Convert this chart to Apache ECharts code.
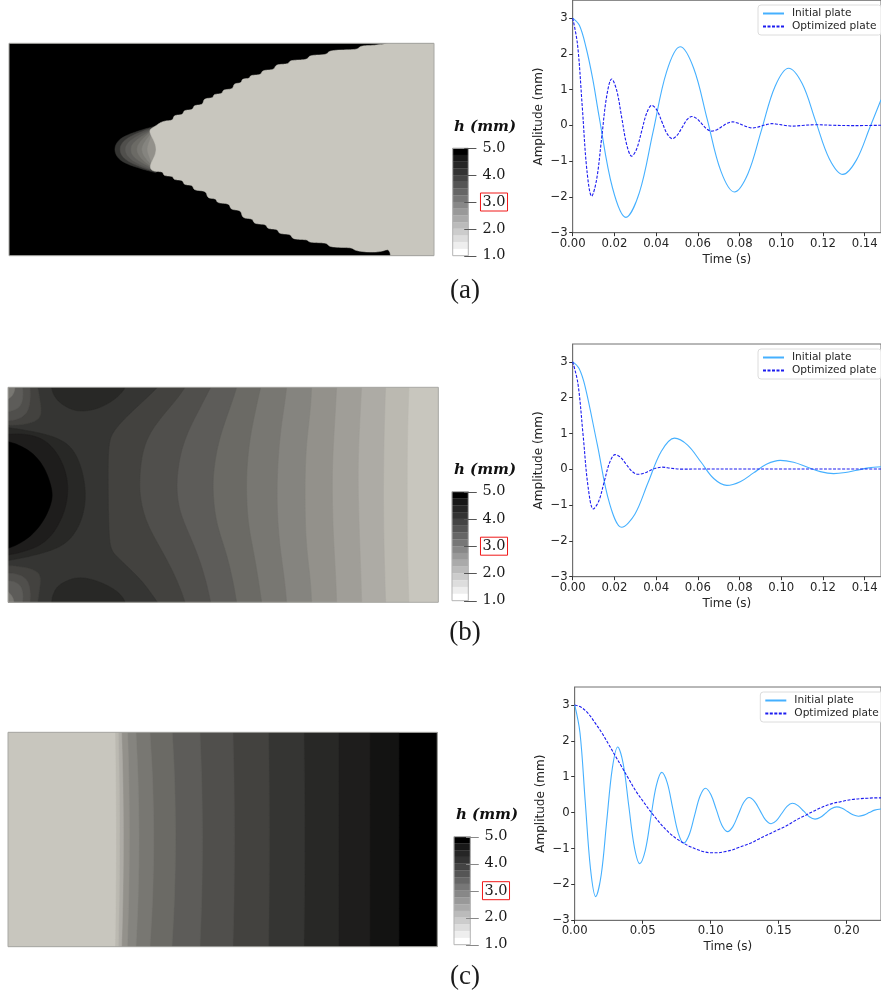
<!DOCTYPE html>
<html><head><meta charset="utf-8">
<style>html,body{margin:0;padding:0;background:#fff;overflow:hidden}#c{width:881px;height:999px;filter:blur(.55px)}</style>
<script src="https://cdn.jsdelivr.net/npm/echarts@6/dist/echarts.min.js"></script>
</head><body><div id="c"></div>
<script>
// ---------- decay curves [time s, amplitude mm] ----------
const initialA=[[0,3],[.0032,2.8],[.0064,2.18],[.0096,1.3],[.01275,.215],[.0191,-1.75],[.0255,-2.57],[.032,-1.87],[.0385,-.185],[.045,1.5],[.0515,2.2],[.058,1.6],[.0645,.17],[.071,-1.27],[.0775,-1.86],[.084,-1.35],[.0905,-.13],[.097,1.09],[.1035,1.6],[.11,1.17],[.1165,.115],[.123,-.93],[.1295,-1.37],[.136,-.97],[.1425,-.05],[.1478,.72]];
const optimizedA=[[0,3],[.0023,2.27],[.0046,.51],[.0068,-1.25],[.0091,-1.98],[.0115,-1.5],[.0139,-.34],[.0163,.82],[.0187,1.3],[.0211,.98],[.0235,.22],[.0259,-.54],[.0283,-.86],[.0307,-.65],[.0331,-.15],[.0355,.35],[.0379,.56],[.0404,.425],[.0428,.095],[.0453,-.235],[.0477,-.37],[.05,-.28],[.0524,-.06],[.0548,.16],[.0571,.25],[.0595,.19],[.0619,.045],[.0643,-.1],[.0667,-.16],[.0692,-.12],[.0716,-.03],[.0741,.06],[.0766,.1],[.079,.07],[.0814,.015],[.0838,-.04],[.0862,-.07],[.0885,-.05],[.0908,-.01],[.0932,.03],[.0955,.05],[.098,.035],[.1003,.015],[.1027,-.005],[.105,-.02],[.11,0],[.116,.02],[.125,.005],[.135,-.005],[.1478,.005]];
const initialB=[[0,3],[.003,2.82],[.0059,2.32],[.0118,.69],[.0176,-.94],[.0235,-1.62],[.0298,-1.255],[.0361,-.375],[.0425,.505],[.0488,.87],[.0551,.677],[.0614,.21],[.0676,-.257],[.0739,-.45],[.0803,-.347],[.0867,-.1],[.0931,.147],[.0995,.25],[.1059,.195],[.1123,.065],[.1187,-.065],[.1251,-.12],[.1307,-.09],[.1363,-.025],[.1419,.04],[.1478,.07]];
const optimizedB=[[0,3],[.0025,2.4],[.005,.945],[.0074,-.5],[.0099,-1.11],[.0125,-.887],[.0151,-.35],[.0177,.187],[.0203,.41],[.023,.33],[.0257,.135],[.0285,-.06],[.0312,-.14],[.0341,-.11],[.0369,-.04],[.0398,.03],[.0427,.06],[.047,.03],[.0523,.005],[.065,.01],[.08,.01],[.1,.01],[.12,.01],[.1478,.01]];
const initialC=[[0,3],[.0039,2.22],[.0077,.33],[.0116,-1.56],[.0154,-2.34],[.0195,-1.73],[.0235,-.255],[.0276,1.22],[.0316,1.83],[.0357,1.355],[.0397,.205],[.0438,-.945],[.0478,-1.42],[.0519,-1.05],[.0559,-.15],[.06,.75],[.064,1.12],[.068,.835],[.072,.135],[.0761,-.565],[.0801,-.85],[.0841,-.625],[.0881,-.085],[.0921,.455],[.0961,.68],[.1001,.505],[.1042,.075],[.1082,-.355],[.1123,-.53],[.1163,-.39],[.1203,-.055],[.1242,.28],[.1282,.42],[.1322,.313],[.1363,.055],[.1403,-.203],[.1444,-.31],[.1483,-.225],[.1522,-.025],[.1561,.175],[.16,.26],[.1642,.195],[.1684,.04],[.1725,-.115],[.1767,-.18],[.1807,-.13],[.1847,-.01],[.1886,.11],[.1926,.16],[.1966,.12],[.2006,.03],[.2046,-.06],[.2086,-.1],[.2126,-.07],[.2166,0],[.2205,.07],[.2252,.1]];
const optimizedC=[[0,3],[.005,2.93],[.01,2.76],[.015,2.5],[.02,2.22],[.025,1.9],[.03,1.57],[.035,1.25],[.04,.92],[.045,.6],[.05,.33],[.055,.07],[.06,-.17],[.065,-.39],[.07,-.58],[.075,-.73],[.08,-.85],[.085,-.95],[.09,-1.03],[.095,-1.09],[.1,-1.12],[.105,-1.12],[.11,-1.09],[.115,-1.05],[.12,-.98],[.125,-.91],[.13,-.84],[.135,-.74],[.14,-.65],[.145,-.56],[.15,-.47],[.155,-.38],[.16,-.27],[.165,-.16],[.17,-.07],[.175,.03],[.18,.12],[.185,.2],[.19,.26],[.195,.3],[.2,.34],[.205,.37],[.21,.39],[.215,.4],[.22,.41],[.2252,.41]];
const timeTicksAB=[0,.02,.04,.06,.08,.1,.12,.14];
const timeTicksC=[0,.05,.1,.15,.2];
const amplitudeTicks=[-3,-2,-1,0,1,2,3];
const thicknessTicks=[1,2,3,4,5];
// colour bar: gray per class, class 0 is 4.75-5.0 mm, class 15 is 1.0-1.25 mm
const barGrays=[0,24,38,51,68,85,102,119,136,153,170,187,204,221,238,255];
const seriesNames=['Initial plate','Optimized plate'];

// ---------- thickness fields: class + contour ----------
const tipInner=[[520,358]];
const fieldA=[
 {level:0,curve:[],close:[[27,40],[1302,40],[1302,677],[27,677]]},
 {level:4,curve:[[468,288],[385,312],[352,335],[344,358],[352,382],[385,405],[468,428]],close:tipInner},
 {level:6,curve:[[460,293],[400,314],[367,337],[360,358],[367,380],[400,403],[460,423]],close:tipInner},
 {level:7,curve:[[455,298],[410,318],[382,340],[376,358],[382,378],[410,400],[455,418]],close:tipInner},
 {level:8,curve:[[452,303],[420,322],[397,342],[393,358],[397,376],[420,395],[452,412]],close:tipInner},
 {level:9,curve:[[452,306],[430,324],[414,345],[411,358],[414,372],[430,392],[452,408]],close:tipInner},
 {level:10,curve:[[454,310],[438,330],[428,347],[426,358],[428,370],[438,386],[454,404]],close:tipInner},
 {level:11,curve:[[456,312],[448,335],[441,358],[448,380],[456,402]],close:tipInner},
 {level:15,curve:[[1172,38],[1130,46],[1075,48],[1075,60],[985,60],[985,75],[925,75],[925,90],[868,90],[868,103],[825,103],[825,120],[785,120],[785,135],[750,135],[750,146],[725,146],[725,160],[700,160],[700,178],[668,178],[668,192],[640,192],[640,205],[610,205],[610,225],[580,225],[580,240],[550,240],[550,255],[520,255],[520,272],[490,272],[465,290],[448,300],[455,320],[472,358],[455,395],[450,415],[465,425],[490,425],[490,438],[520,438],[520,450],[550,450],[550,465],[580,465],[580,482],[620,482],[620,505],[650,505],[650,520],[690,520],[690,540],[725,540],[725,565],[760,565],[760,582],[800,582],[800,597],[835,597],[835,612],[875,612],[875,628],[925,628],[925,638],[985,638],[985,652],[1060,652],[1060,662],[1140,668],[1165,655],[1172,680]],close:[[1302,680],[1302,38]]}
];
const leftEdgeB=[[24,682],[24,37]];
const fieldB=[
 {level:15,curve:[],close:[[24,37],[1315,37],[1315,682],[24,682]]},
 {level:14,curve:[[1227,37],[1222,200],[1222,358],[1222,520],[1227,682]],close:leftEdgeB},
 {level:13,curve:[[1157,37],[1153,150],[1150,358],[1153,550],[1157,682]],close:leftEdgeB},
 {level:12,curve:[[1085,37],[1079,150],[1075,250],[1075,358],[1079,500],[1083,600],[1085,682]],close:leftEdgeB},
 {level:11,curve:[[1010,37],[1005,130],[998,250],[997,358],[1000,480],[1007,600],[1010,682]],close:leftEdgeB},
 {level:10,curve:[[935,37],[930,120],[918,220],[915,358],[918,500],[930,600],[935,682]],close:leftEdgeB},
 {level:9,curve:[[860,37],[852,100],[838,200],[830,358],[838,500],[852,600],[860,682]],close:leftEdgeB},
 {level:8,curve:[[782,37],[768,100],[748,200],[740,300],[740,358],[745,450],[765,550],[785,682]],close:leftEdgeB},
 {level:7,curve:[[710,37],[690,100],[655,200],[640,300],[640,358],[650,450],[685,550],[710,682]],close:leftEdgeB},
 {level:6,curve:[[632,37],[600,100],[550,200],[532,300],[532,358],[545,430],[600,550],[632,682]],close:leftEdgeB},
 {level:5,curve:[[555,37],[525,80],[465,150],[430,220],[420,300],[420,358],[435,430],[470,500],[525,600],[555,682]],close:leftEdgeB},
 {level:4,curve:[[472,37],[450,60],[385,120],[340,170],[325,220],[325,358],[328,500],[345,540],[410,600],[450,650],[472,682]],close:leftEdgeB},
 {level:3,curve:[[155,37],[165,70],[205,100],[250,110],[310,95],[360,60],[375,37]],close:[]},
 {level:3,curve:[[155,682],[165,640],[205,615],[250,607],[310,625],[360,655],[375,682]],close:[]},
 {level:3,curve:[[24,158],[100,170],[190,195],[235,250],[257,340],[250,420],[215,490],[150,530],[24,557]],close:[]},
 {level:2,curve:[[24,178],[110,180],[170,230],[200,300],[203,360],[190,420],[150,490],[90,525],[24,540]],close:[]},
 {level:0,curve:[[24,200],[80,220],[130,270],[155,340],[155,380],[130,440],[80,495],[24,520]],close:[]},
 {level:5,curve:[[113,37],[122,90],[120,135],[60,150],[24,150]],close:[[24,37]]},
 {level:6,curve:[[90,37],[90,95],[65,130],[24,137]],close:[[24,37]]},
 {level:7,curve:[[68,37],[68,85],[45,105],[24,110]],close:[[24,37]]},
 {level:9,curve:[[45,37],[40,60],[24,72]],close:[[24,37]]},
 {level:5,curve:[[113,682],[120,630],[118,590],[60,575],[24,572]],close:[[24,682]]},
 {level:6,curve:[[90,682],[90,630],[65,600],[24,595]],close:[[24,682]]},
 {level:7,curve:[[68,682],[68,640],[45,620],[24,618]],close:[[24,682]]},
 {level:9,curve:[[42,682],[38,665],[24,650]],close:[[24,682]]}
];
const leftEdgeC=[[24,680],[24,37]];
const fieldC=[
 {level:0,curve:[],close:[[24,37],[1312,37],[1312,680],[24,680]]},
 {level:1,curve:[[1197,37],[1197,358],[1197,680]],close:leftEdgeC},
 {level:2,curve:[[1110,37],[1110,358],[1110,680]],close:leftEdgeC},
 {level:3,curve:[[1016,37],[1016,358],[1016,680]],close:leftEdgeC},
 {level:4,curve:[[912,37],[915,358],[912,680]],close:leftEdgeC},
 {level:5,curve:[[806,37],[809,358],[806,680]],close:leftEdgeC},
 {level:6,curve:[[699,37],[705,358],[699,680]],close:leftEdgeC},
 {level:7,curve:[[600,37],[610,358],[600,680]],close:leftEdgeC},
 {level:8,curve:[[517,37],[530,358],[516,680]],close:leftEdgeC},
 {level:9,curve:[[450,37],[465,358],[450,680]],close:leftEdgeC},
 {level:10,curve:[[408,37],[420,358],[408,680]],close:leftEdgeC},
 {level:11,curve:[[383,37],[390,358],[382,680]],close:leftEdgeC},
 {level:13,curve:[[365,37],[372,358],[365,680]],close:leftEdgeC},
 {level:14,curve:[[355,37],[360,358],[355,680]],close:leftEdgeC},
 {level:15,curve:[[345,37],[349,358],[345,680]],close:leftEdgeC}
];

// ---------- rendering ----------
const TINT=[.784,.776,.745];
const plateColor=l=>{const g=barGrays[l];return `rgb(${TINT.map(t=>Math.round(g*t)).join(',')})`};
const barColor=l=>{const g=barGrays[l];return `rgb(${g},${g},${g})`};
function spline(p){ // drawing-only rounding of a read contour
  if(p.length<3) return p; const o=[];
  for(let i=0;i<p.length-1;i++){
    const a=p[Math.max(i-1,0)],b=p[i],c=p[i+1],d=p[Math.min(i+2,p.length-1)];
    for(let k=0;k<10;k++){const t=k/10,t2=t*t,t3=t2*t;
      o.push([0,1].map(j=>.5*(2*b[j]+(c[j]-a[j])*t+(2*a[j]-5*b[j]+4*c[j]-d[j])*t2+(3*b[j]-a[j]-3*c[j]+d[j])*t3)));}
  }
  o.push(p[p.length-1]);
  const w=6;
  return o.map((q,i)=>{const r=Math.min(w,i,o.length-1-i);let x=0,y=0;
    for(let k=i-r;k<=i+r;k++){x+=o[k][0];y+=o[k][1];}
    return [x/(2*r+1),y/(2*r+1)];});
}
const SANS='DejaVu Sans',SERIF='DejaVu Serif',AXC='#262626',AXL='#707070';
const grids=[],xAxes=[],yAxes=[],series=[],legends=[],graphics=[];
function addAxes(g,x,y){grids.push(g);const i=grids.length-1;
  xAxes.push(Object.assign({gridIndex:i},x));yAxes.push(Object.assign({gridIndex:i},y));return i;}
function addField(field,box,dom){
  const i=addAxes({left:box[0],top:box[1],width:box[2]-box[0],height:box[3]-box[1],show:true,borderColor:'#a8a8a4',borderWidth:1,z:3,backgroundColor:'transparent'},
   {type:'value',show:false,min:dom[0],max:dom[1]},{type:'value',show:false,min:dom[2],max:dom[3],inverse:true});
  series.push({type:'custom',xAxisIndex:i,yAxisIndex:i,clip:true,silent:true,data:field.map((_,k)=>[k]),encode:{x:-1,y:-1},
   renderItem(p,api){const b=field[api.value(0)];
     const c=spline(b.curve);
     return {type:'polygon',shape:{points:c.concat(b.close).map(q=>api.coord(q))},style:{fill:plateColor(b.level),stroke:plateColor(b.level),lineWidth:.5}};}});
}
function addBar(box,tickColor){
  const i=addAxes({left:box[0],top:box[1],width:box[2]-box[0],height:box[3]-box[1],show:true,borderColor:'#b4b4b4',borderWidth:1,backgroundColor:'transparent',z:3},
   {type:'value',show:false,min:0,max:1},
   {type:'value',min:1,max:5,interval:1,position:'right',
    axisLine:{show:false},splitLine:{show:false},axisTick:{show:false},
    axisLabel:{show:true,margin:25.7,align:'center',color:'#1a1a1a',fontFamily:SERIF,fontSize:14.5,
      formatter:v=>v===3?'{box|3.0}':v.toFixed(1),
      rich:{box:{borderColor:'#f01818',borderWidth:1,padding:[2,2,1,2],fontFamily:SERIF,fontSize:14.5,color:'#1a1a1a'}}}});
  series.push({type:'custom',xAxisIndex:i,yAxisIndex:i,silent:true,z:1,data:barGrays.map((_,k)=>[k]),encode:{x:-1,y:-1},
   renderItem(p,api){const k=api.value(0),a=api.coord([0,5-k*.25]),b=api.coord([1,5-(k+1)*.25]);
     return {type:'rect',shape:{x:a[0],y:a[1],width:b[0]-a[0],height:b[1]-a[1]},style:{fill:barColor(k),stroke:barColor(k),lineWidth:.3}};}});
  series.push({type:'custom',xAxisIndex:i,yAxisIndex:i,silent:true,clip:false,z:5,data:thicknessTicks.map(h=>[h]),encode:{x:-1,y:-1},
   renderItem(p,api){const h=api.value(0),a=api.coord([.74,h]),b=api.coord([1.52,h]);
     return {type:'line',shape:{x1:a[0],y1:Math.round(a[1])+.5,x2:b[0],y2:Math.round(a[1])+.5},style:{stroke:tickColor,lineWidth:1}};}});
}
function addLines(box,xMax,xTicks,init,opt,legendPos){
  const i=addAxes({left:box[0],top:box[1],width:box[2]-box[0],height:box[3]-box[1],show:true,borderColor:AXL,borderWidth:1,backgroundColor:'transparent'},
   {type:'value',min:0,max:xMax,name:'Time (s)',nameLocation:'middle',nameGap:21,nameTextStyle:{color:AXC,fontFamily:SANS,fontSize:12},
    axisLine:{show:true,onZero:false,lineStyle:{color:AXL,width:1}},splitLine:{show:false},
    axisTick:{show:true,length:3.5,customValues:xTicks,lineStyle:{color:'#333'}},
    axisLabel:{show:true,margin:5,customValues:xTicks,color:AXC,fontFamily:SANS,fontSize:11.7,hideOverlap:false,showMinLabel:true,formatter:v=>v.toFixed(2)}},
   {type:'value',min:-3,max:3.5,name:'Amplitude (mm)',nameLocation:'middle',nameGap:28,nameTextStyle:{color:AXC,fontFamily:SANS,fontSize:12},
    axisLine:{show:true,onZero:false,lineStyle:{color:AXL,width:1}},splitLine:{show:false},
    axisTick:{show:true,length:3.5,customValues:amplitudeTicks,lineStyle:{color:'#333'}},
    axisLabel:{show:true,margin:5,customValues:amplitudeTicks,color:AXC,fontFamily:SANS,fontSize:11.7,formatter:v=>v<0?'\u2212'+Math.abs(v):String(v)}});
  const base={type:'line',xAxisIndex:i,yAxisIndex:i,showSymbol:false,symbol:'none',smooth:.35,silent:true,clip:true};
  series.push(Object.assign({},base,{name:seriesNames[0],data:init,lineStyle:{color:'#45b0ff',width:1.1},itemStyle:{color:'#45b0ff'},z:2}));
  series.push(Object.assign({},base,{name:seriesNames[1],data:opt,lineStyle:{color:'#1c1cf0',width:1.1,type:[3,1.5]},itemStyle:{color:'#1c1cf0'},z:3}));
  legends.push({data:seriesNames,orient:'vertical',left:legendPos[0],top:legendPos[1],padding:[3,5,3,4],itemWidth:21,itemHeight:12,itemGap:2,
    itemStyle:{opacity:0},selectedMode:false,backgroundColor:'rgba(255,255,255,.8)',borderColor:'#dcdcdc',borderWidth:1,borderRadius:3,
    textStyle:{color:AXC,fontFamily:SANS,fontSize:10.6,padding:[0,0,0,3]},z:10});
}
function addCaption(txt,x,y){
  graphics.push({type:'text',x,y,z:20,style:{text:txt,fill:'#1a1a1a',font:'27px "Liberation Serif"',textAlign:'center',textVerticalAlign:'middle'}});
}
function addUnit(x,y){
  graphics.push({type:'text',x,y,z:20,style:{text:'h (mm)',fill:'#111',font:'italic bold 15px "DejaVu Serif"',textAlign:'center',textVerticalAlign:'middle'}});
}
addField(fieldA,[9,43.3,434,255.7],[27,1302,40,677]);
addField(fieldB,[8,387.3,438.3,602.3],[24,1315,37,682]);
addField(fieldC,[8,732.3,437.3,946.7],[24,1312,37,680]);
addBar([452.7,148.3,468.3,255.7],'#555');
addBar([452,491.7,468.3,600.7],'#555');
addBar([454,836.7,470.3,944.7],'#888');
addLines([572.7,.3,882,232.7],.1478,timeTicksAB,initialA,optimizedA,[758,5]);
addLines([572.7,344,882,576.7],.1478,timeTicksAB,initialB,optimizedB,[758,349]);
addLines([574.7,687,882,920.3],.2252,timeTicksC,initialC,optimizedC,[760.3,692]);
addUnit(485,127);addUnit(485,470);addUnit(487,815);
addCaption('(a)',465,291);addCaption('(b)',465,633);addCaption('(c)',465,977);

const chart=echarts.init(document.getElementById('c'));
chart.setOption({animation:false,backgroundColor:'#fff',grid:grids,xAxis:xAxes,yAxis:yAxes,series,legend:legends,graphic:{elements:graphics}});
</script></body></html>
